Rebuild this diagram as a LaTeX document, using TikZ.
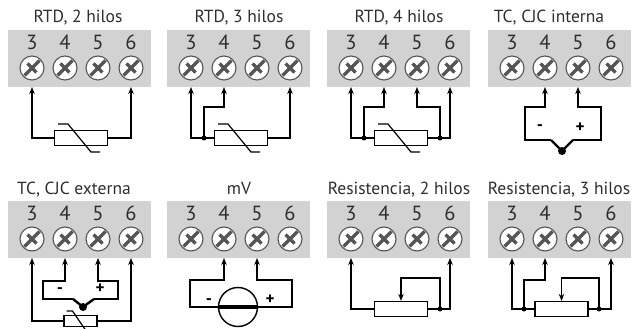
\documentclass[tikz,border=0pt]{standalone}
\usepackage{fontspec}
\setmainfont{PT Sans}
\usetikzlibrary{arrows.meta}
\definecolor{panelgray}{HTML}{D2D2D2}
\definecolor{ink}{HTML}{2E2E2E}
\definecolor{screwink}{HTML}{555555}
\newcommand\tpanel[5]{%
  \node[panelbox, anchor=north west] (#1) at (#2,#3) {};
  \node[titletext, anchor=base] (#1-title) at (#5,#3-7) {#4};
  \foreach \n/\dx in {3/24,4/57,5/90,6/123} {
    \node[digit, anchor=base] (#1-d\n) at (#2+\dx,#3+20) {\n};
    \pic at (#2+\dx,#3+38) {screwpic};
    \coordinate (#1-\n) at (#2+\dx,#3+57);
  }%
}
\begin{document}
\begin{tikzpicture}[x=1pt,y=-1pt,
  panelbox/.style={fill=panelgray, draw=none, minimum width=143pt, minimum height=57pt, inner sep=0},
  titletext/.style={font=\fontsize{17.5}{19}\selectfont, text=ink, inner sep=0},
  digit/.style={font=\fontsize{20.5}{22}\selectfont, text=ink, inner sep=0},
  screwpic/.pic={
    \draw[fill=white, draw=screwink, line width=1.1pt] (0,0) circle (12);
    \draw[screwink, line width=3.4pt] (-7.5,7.5) -- (7.5,-7.5);
    \draw[screwink, line width=3.4pt] (-4.5,-4.5) -- (4.5,4.5);
  },
  wire/.style={draw=black, line width=1.2pt},
  tcwire/.style={draw=black, line width=2.4pt},
  tip/.style={{Stealth[length=7pt,width=5.5pt]}-},
  res/.style={draw=black, fill=white, line width=1.2pt, minimum width=53pt, minimum height=15pt, inner sep=0},
  dot/.style={circle, fill=black, minimum size=5pt, inner sep=0},
  tcdot/.style={circle, fill=black, minimum size=8pt, inner sep=0},
  sign/.style={font=\fontsize{17}{17}\selectfont\bfseries, inner sep=0},
  source/.style={circle, draw=black, fill=white, line width=1.4pt, minimum size=39pt, inner sep=0}
]
\useasboundingbox (0,0) rectangle (633,329);

\tpanel{p1}{8}{30}{RTD, 2 hilos}{78}
\tpanel{p2}{167}{30}{RTD, 3 hilos}{239}
\tpanel{p3}{327}{30}{RTD, 4 hilos}{399}
\tpanel{p4}{488}{30}{TC, CJC interna}{549}
\tpanel{p5}{8}{201}{TC, CJC externa}{74}
\tpanel{p6}{167}{201}{mV}{239}
\tpanel{p7}{327}{201}{Resistencia, 2 hilos}{399}
\tpanel{p8}{488}{201}{Resistencia, 3 hilos}{559}

% RTD 2 hilos
\node[res] (r1) at (81,138) {};
\draw[wire] ([shift={(-23,-14)}]r1.center) -- ++(10,0) -- ++(23,28) -- ++(9,0);
\draw[wire,tip] (p1-3) |- (r1.west);
\draw[wire,tip] (p1-6) |- (r1.east);

% RTD 3 hilos
\node[res] (r2) at (241,138) {};
\draw[wire] ([shift={(-23,-14)}]r2.center) -- ++(10,0) -- ++(23,28) -- ++(9,0);
\node[dot] (d2) at (204,138) {};
\draw[wire,tip] (p2-3) |- (r2.west);
\draw[wire,tip] (p2-4) -- ++(0,20) -| (d2.center);
\draw[wire,tip] (p2-6) |- (r2.east);

% RTD 4 hilos
\node[res] (r3) at (401,138) {};
\draw[wire] ([shift={(-23,-14)}]r3.center) -- ++(10,0) -- ++(23,28) -- ++(9,0);
\node[dot] (d3a) at (364,138) {};
\node[dot] (d3b) at (440,138) {};
\draw[wire,tip] (p3-3) |- (r3.west);
\draw[wire,tip] (p3-4) -- ++(0,20) -| (d3a.center);
\draw[wire,tip] (p3-5) -- ++(0,20) -| (d3b.center);
\draw[wire,tip] (p3-6) |- (r3.east);

% TC interna
\node[tcdot] (j4) at (562,151) {};
\draw[wire,tip] (p4-4) -- ++(0,20) -| (525,140) -- (551,140);
\draw[wire,tip] (p4-5) -- ++(0,20) -| (601,140) -- (573,140);
\draw[tcwire] (551,140) -- (j4.center) -- (573,140);
\node[sign] (m4) at (540,128) {-};
\node[sign] (pl4) at (580,128) {+};

% TC externa
\node[res, minimum width=33pt, minimum height=11pt] (r5) at (80.5,321) {};
\draw[wire] ([shift={(-14,-10)}]r5.center) -- ++(6,0) -- ++(13,19) -- ++(5,0);
\draw[wire,tip] (p5-3) |- (r5.west);
\draw[wire,tip] (p5-6) |- (r5.east);
\node[tcdot] (j5) at (83,307) {};
\draw[wire,tip] (p5-4) -- ++(0,23) -| (43,299) -- (73,299);
\draw[wire,tip] (p5-5) -- ++(0,23) -| (118,299) -- (94,299);
\draw[tcwire] (73,299) -- (j5.center) -- (94,299);
\node[sign] (m5) at (60,291) {-};
\node[sign] (pl5) at (100,289) {+};

% mV
\node[source] (v6) at (238,307) {};
\draw[line width=4pt] (v6.west) -- (v6.east);
\draw[wire,tip] (p6-4) -- ++(0,22) -| (190,307) -- (v6.west);
\draw[wire,tip] (p6-5) -- ++(0,22) -| (292,307) -- (v6.east);
\node[sign] (m6) at (209,302) {-};
\node[sign] (pl6) at (270,300) {+};

% Resistencia 2 hilos
\node[res] (r7) at (401,309) {};
\node[dot] (d7) at (440,309) {};
\draw[wire,tip] (p7-3) |- (r7.west);
\draw[wire,tip] (p7-6) |- (r7.east);
\draw[wire,tip] (r7.north) -- ++(0,-23) -| (d7.center);

% Resistencia 3 hilos
\node[res] (r8) at (561.5,309) {};
\node[dot] (d8a) at (524,309) {};
\node[dot] (d8b) at (599,309) {};
\draw[wire,tip] (p8-3) |- (r8.west);
\draw[wire,tip] (p8-4) -- ++(0,22) -| (d8a.center);
\draw[wire,tip] (p8-6) |- (r8.east);
\draw[wire,tip] (r8.north) -- ++(0,-23) -| (d8b.center);
\end{tikzpicture}
\end{document}
